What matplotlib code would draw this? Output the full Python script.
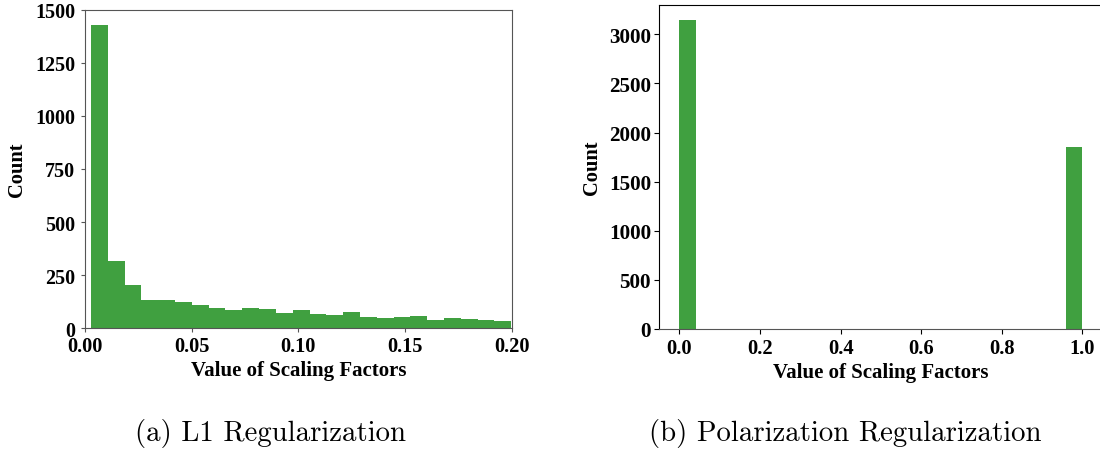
import numpy as np
import matplotlib
matplotlib.use("Agg")
import matplotlib.pyplot as plt

# (a) L1 regularization: 25 bins starting at 0.0028
l1_bin_start = 0.0028
l1_bin_width = 0.00788
l1_counts = [1429, 319, 206, 133, 133, 124, 110, 96, 86, 96, 91, 72, 86,
             67, 63, 77, 53, 49, 53, 58, 39, 49, 44, 39, 35]
l1_xticks = [0.0, 0.05, 0.10, 0.15, 0.20]
l1_xticklabels = ["0.00", "0.05", "0.10", "0.15", "0.20"]

# (b) polarization regularization: 25 bins over [0, 1]
pol_range = (0.0, 1.0)
pol_counts = [3143] + [0] * 23 + [1850]

xlabel = "Value of Scaling Factors"
ylabel = "Count"
captions = ["(a) L1 Regularization", "(b) Polarization Regularization"]

plt.rcParams["font.family"] = ["Liberation Serif", "DejaVu Serif"]
plt.rcParams["font.weight"] = "bold"

fig = plt.figure(figsize=(11, 4.52), dpi=100)
ax1 = fig.add_axes([0.0773, 0.2715, 0.3879, 0.7049])
ax2 = fig.add_axes([0.5993, 0.2706, 0.4031, 0.7162])

# left panel
edges = l1_bin_start + l1_bin_width * np.arange(len(l1_counts) + 1)
ax1.hist(edges[:-1], bins=edges, weights=l1_counts, color="green", alpha=0.75)
ax1.set_xlim(0, 0.2)
ax1.set_ylim(0, 1500)
ax1.set_xticks(l1_xticks)
ax1.set_xticklabels(l1_xticklabels)
ax1.set_yticks(np.arange(0, 1501, 250))
ax1.tick_params(axis="x", labelsize=14.7, pad=2.5, length=3, color="#555555")
ax1.tick_params(axis="y", labelsize=14.4, pad=4, length=3, color="#555555")
for s in ax1.spines.values():
    s.set_color("#555555")
ax1.set_xlabel(xlabel, fontsize=15, fontweight="bold", labelpad=3)
ax1.set_ylabel(ylabel, fontsize=14.8, fontweight="bold", labelpad=6)

# right panel
pedges = np.linspace(pol_range[0], pol_range[1], len(pol_counts) + 1)
ax2.hist(pedges[:-1], bins=pedges, weights=pol_counts, color="green", alpha=0.75)
ax2.set_yticks(np.arange(0, 3001, 500))
ax2.tick_params(axis="x", labelsize=14.8, pad=3)
ax2.tick_params(axis="y", labelsize=15.2, pad=2.4)
ax2.spines["bottom"].set_color("#555555")
ax2.set_xlabel(xlabel, fontsize=15, fontweight="bold", labelpad=3)
ax2.set_ylabel(ylabel, fontsize=14.8, fontweight="bold", labelpad=5)

for ax in (ax1, ax2):
    for lab in ax.get_xticklabels() + ax.get_yticklabels():
        lab.set_fontweight("bold")

fig.text(0.2462, 0.0243, captions[0], ha="center", va="baseline",
         fontsize=20.75, fontweight="normal", family="cmr10")
fig.text(0.7682, 0.0243, captions[1], ha="center", va="baseline",
         fontsize=20.75, fontweight="normal", family="cmr10")

fig.savefig("out.png", dpi=100)
